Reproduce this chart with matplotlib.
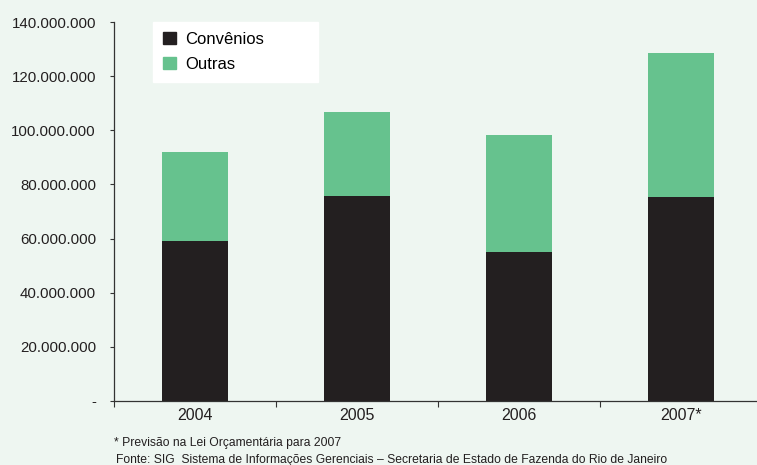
import matplotlib
matplotlib.use("Agg")
import matplotlib.pyplot as plt
from matplotlib.patches import Patch

# dados (R$)
anos = ["2004", "2005", "2006", "2007*"]
convenios = [59100000, 75700000, 55000000, 75400000]
outras = [32900000, 31100000, 43300000, 53200000]
yticks = [0, 20000000, 40000000, 60000000, 80000000, 100000000, 120000000, 140000000]

plt.rcParams["font.family"] = ["Liberation Sans", "DejaVu Sans"]

fundo = "#eef6f1"
preto = "#231f20"
verde = "#66c28e"

fig = plt.figure(figsize=(7.57, 4.65), dpi=100, facecolor=fundo)
ax = fig.add_axes([114 / 757, 64 / 465, 648 / 757, 379 / 465], facecolor=fundo)

x = range(len(anos))
ax.bar(x, convenios, width=0.41, color=preto, zorder=2)
ax.bar(x, outras, width=0.41, bottom=convenios, color=verde, zorder=2)

ax.set_xlim(-0.5, 3.5)
ax.set_ylim(0, 140000000)
ax.set_xticks([i - 0.5 for i in range(len(anos))])
ax.set_xticklabels([])
ax.set_xticks(list(x), minor=True)
ax.set_xticklabels(anos, minor=True)
ax.tick_params(axis="x", which="major", length=4, direction="out", color="#333333")
ax.tick_params(axis="x", which="minor", length=0, labelsize=11.5, pad=5, labelcolor="#231f20")

ax.set_yticks(yticks)
ax.set_yticklabels(["-"] + [f"{v:,}".replace(",", ".") for v in yticks[1:]])
ax.tick_params(axis="y", length=3, direction="out", labelsize=10.8, pad=10,
               color="#333333", labelcolor="#231f20")

for s in ["top", "right"]:
    ax.spines[s].set_visible(False)
for s in ["left", "bottom"]:
    ax.spines[s].set_color("#333333")
    ax.spines[s].set_linewidth(0.9)

handles = [Patch(color=preto, label="Convênios"), Patch(color=verde, label="Outras")]
leg = ax.legend(handles=handles, loc="upper left", mode="expand",
                bbox_to_anchor=(39 / 648, 0.847, 165 / 648, 0.153),
                frameon=True, fancybox=False, fontsize=12, handlelength=0.75,
                handleheight=0.75, handletextpad=0.6, borderpad=0.6, labelspacing=0.6,
                borderaxespad=0)
leg.get_frame().set_facecolor("white")
leg.get_frame().set_edgecolor("white")
leg.get_frame().set_alpha(1)
leg.set_zorder(3)

fig.text(114 / 757, 1 - 443 / 465, "* Previsão na Lei Orçamentária para 2007",
         fontsize=8.7, color="#231f20", va="center")
fig.text(116 / 757, 1 - 460 / 465,
         "Fonte: SIG  Sistema de Informações Gerenciais – Secretaria de Estado de Fazenda do Rio de Janeiro",
         fontsize=8.7, color="#231f20", va="center")

fig.savefig("out.png", dpi=100, facecolor=fundo)
